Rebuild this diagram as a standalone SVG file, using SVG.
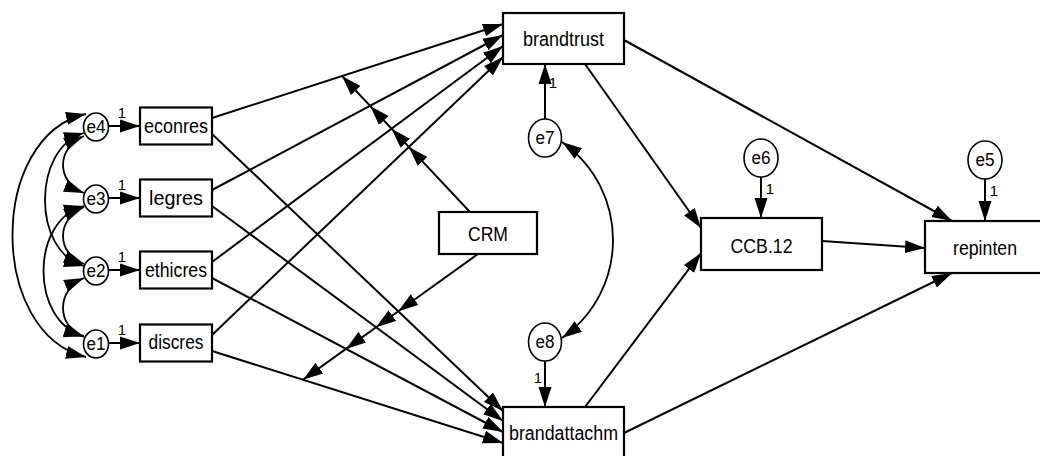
<svg xmlns="http://www.w3.org/2000/svg" width="1040" height="456" viewBox="0 0 1040 456">
  <style>
    .box { fill: #fff; stroke: #000; stroke-width: 2.2; }
    .err { fill: #fff; stroke: #000; stroke-width: 1.6; }
    .lbl { font-family: "Liberation Sans", Arial, sans-serif; font-size: 20px; fill: #000; text-anchor: middle; }
    .elbl { font-family: "Liberation Sans", Arial, sans-serif; font-size: 18px; fill: #000; text-anchor: middle; }
    .one { font-family: "Liberation Sans", Arial, sans-serif; font-size: 15px; fill: #000; text-anchor: middle; }
    .path { fill: none; stroke: #000; stroke-width: 2; marker-end: url(#ah); }
    .cov { fill: none; stroke: #000; stroke-width: 1.8; marker-start: url(#ah); marker-end: url(#ah); }
    .mod { fill: none; stroke: #000; stroke-width: 2; marker-mid: url(#ah); marker-end: url(#ah); }
  </style>
  <defs>
    <marker id="ah" markerUnits="userSpaceOnUse" markerWidth="20" markerHeight="14" refX="20" refY="7" orient="auto-start-reverse">
      <path d="M0,0.5 L20,7 L0,13.5 z" fill="#000"/>
    </marker>
  </defs>

  <g id="connectors">
    <!-- error terms to observed indicators -->
    <path class="path" d="M108,126 L140,126"/>
    <path class="path" d="M108,198 L140,198"/>
    <path class="path" d="M108,270 L140,270"/>
    <path class="path" d="M108,343 L140,343"/>

    <!-- covariances among e1..e4 -->
    <path class="cov" d="M86,114 C-12,136 -12,334 86,357"/>
    <path class="cov" d="M84,133 C32,148 32,252 84,266"/>
    <path class="cov" d="M84,206 C30,220 30,322 84,336"/>
    <path class="cov" d="M84,136 C56,148 56,182 84,193"/>
    <path class="cov" d="M84,207 C56,219 56,253 84,264"/>
    <path class="cov" d="M84,278 C56,290 56,326 84,337"/>

    <!-- indicators to brandtrust -->
    <path class="path" d="M212,118 L503,24"/>
    <path class="path" d="M212,190 L503,35"/>
    <path class="path" d="M212,262 L503,46"/>
    <path class="path" d="M212,335 L503,57"/>

    <!-- indicators to brandattachm -->
    <path class="path" d="M212,134 L503,411"/>
    <path class="path" d="M212,206 L503,421"/>
    <path class="path" d="M212,278 L503,432"/>
    <path class="path" d="M212,351 L503,443"/>

    <!-- CRM moderation of the paths -->
    <path class="mod" d="M470,212 L408.8,146.9 L391.6,128.7 L370.1,105.9 L342,76"/>
    <path class="mod" d="M478,254 L398.3,311.3 L376.1,327.3 L346,348.9 L303,379.8"/>

    <!-- disturbances -->
    <path class="path" d="M545,119 L545,64"/>
    <path class="path" d="M545,361 L545,407"/>
    <path class="path" d="M761,177 L761,218"/>
    <path class="path" d="M985,179 L985,221"/>
    <path class="cov" d="M562,142 C630,190 630,290 562,338"/>

    <!-- structural paths -->
    <path class="path" d="M585,64 L701,228"/>
    <path class="path" d="M585,407 L701,253"/>
    <path class="path" d="M624,40 L952,221"/>
    <path class="path" d="M822,241 L925,248"/>
    <path class="path" d="M624,433 L952,273"/>

    <!-- fixed loadings -->
    <text class="one" x="122" y="118">1</text>
    <text class="one" x="122" y="190">1</text>
    <text class="one" x="122" y="262">1</text>
    <text class="one" x="122" y="335">1</text>
    <text class="one" x="553" y="88">1</text>
    <text class="one" x="538" y="383">1</text>
    <text class="one" x="770" y="194">1</text>
    <text class="one" x="994" y="196">1</text>
  </g>

  <g id="e4"><ellipse class="err" cx="96" cy="127" rx="12.5" ry="14"/><text class="elbl" x="96" y="133" textLength="19" lengthAdjust="spacingAndGlyphs">e4</text></g>
  <g id="e3"><ellipse class="err" cx="96" cy="199" rx="12.5" ry="14"/><text class="elbl" x="96" y="205" textLength="19" lengthAdjust="spacingAndGlyphs">e3</text></g>
  <g id="e2"><ellipse class="err" cx="96" cy="271" rx="12.5" ry="14"/><text class="elbl" x="96" y="277" textLength="19" lengthAdjust="spacingAndGlyphs">e2</text></g>
  <g id="e1"><ellipse class="err" cx="96" cy="344" rx="12.5" ry="14"/><text class="elbl" x="96" y="350" textLength="19" lengthAdjust="spacingAndGlyphs">e1</text></g>

  <g id="econres"><rect class="box" x="140" y="107.5" width="72" height="37"/><text class="lbl" x="176" y="133" textLength="64" lengthAdjust="spacingAndGlyphs">econres</text></g>
  <g id="legres"><rect class="box" x="140" y="179.5" width="72" height="37"/><text class="lbl" x="176" y="205" textLength="54" lengthAdjust="spacingAndGlyphs">legres</text></g>
  <g id="ethicres"><rect class="box" x="140" y="251.5" width="72" height="37"/><text class="lbl" x="176" y="277" textLength="62" lengthAdjust="spacingAndGlyphs">ethicres</text></g>
  <g id="discres"><rect class="box" x="140" y="324.5" width="72" height="37"/><text class="lbl" x="176" y="349" textLength="55" lengthAdjust="spacingAndGlyphs">discres</text></g>

  <g id="CRM"><rect class="box" x="439" y="212" width="98" height="42"/><text class="lbl" x="488" y="241" textLength="40" lengthAdjust="spacingAndGlyphs">CRM</text></g>

  <g id="brandtrust"><rect class="box" x="503" y="13" width="121" height="51"/><text class="lbl" x="563.5" y="46" textLength="81" lengthAdjust="spacingAndGlyphs">brandtrust</text></g>
  <g id="brandattachm"><rect class="box" x="503" y="407" width="121" height="60"/><text class="lbl" x="563.5" y="440" textLength="109" lengthAdjust="spacingAndGlyphs">brandattachm</text></g>

  <g id="e7"><ellipse class="err" cx="545" cy="138" rx="16.5" ry="19"/><text class="elbl" x="545" y="144" textLength="19" lengthAdjust="spacingAndGlyphs">e7</text></g>
  <g id="e8"><ellipse class="err" cx="545" cy="342" rx="16.5" ry="19"/><text class="elbl" x="545" y="348" textLength="19" lengthAdjust="spacingAndGlyphs">e8</text></g>

  <g id="CCB.12"><rect class="box" x="701" y="218" width="121" height="52"/><text class="lbl" x="761.5" y="253" textLength="62" lengthAdjust="spacingAndGlyphs">CCB.12</text></g>
  <g id="e6"><ellipse class="err" cx="761" cy="158" rx="17" ry="19"/><text class="elbl" x="761" y="164" textLength="19" lengthAdjust="spacingAndGlyphs">e6</text></g>

  <g id="repinten"><rect class="box" x="925" y="221" width="125" height="52"/><text class="lbl" x="985" y="255" textLength="64" lengthAdjust="spacingAndGlyphs">repinten</text></g>
  <g id="e5"><ellipse class="err" cx="985" cy="160" rx="17" ry="19"/><text class="elbl" x="985" y="166" textLength="19" lengthAdjust="spacingAndGlyphs">e5</text></g>
</svg>
